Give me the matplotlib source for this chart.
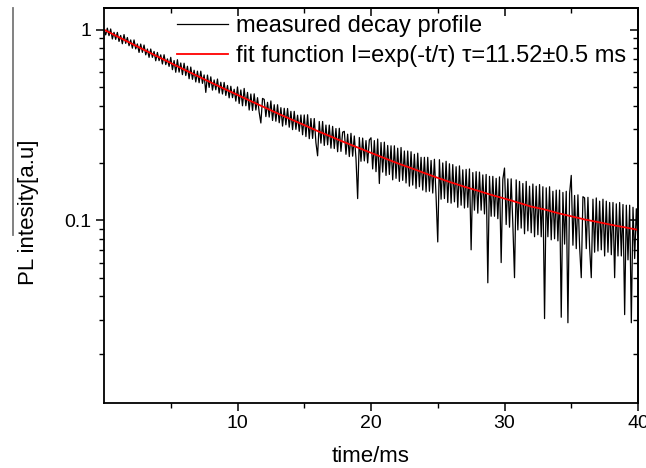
import numpy as np
import matplotlib
matplotlib.use('Agg')
import matplotlib.pyplot as plt
from matplotlib.lines import Line2D
from matplotlib.ticker import LogLocator, NullFormatter

############################# DATA ##########################
# measured trace, one sample every 0.125 ms from 0 to 40 ms (8 per row = 1 ms)
t_step = 0.125
measured = [
    1.000, 0.940, 1.019, 0.931, 1.009, 0.894, 0.969, 0.890,
    0.968, 0.868, 0.933, 0.844, 0.943, 0.848, 0.910, 0.824,
    0.884, 0.800, 0.884, 0.793, 0.842, 0.760, 0.841, 0.761,
    0.831, 0.738, 0.792, 0.716, 0.792, 0.716, 0.769, 0.687,
    0.760, 0.688, 0.738, 0.661, 0.739, 0.656, 0.703, 0.642,
    0.716, 0.617, 0.689, 0.598, 0.696, 0.599, 0.669, 0.581,
    0.667, 0.575, 0.643, 0.553, 0.637, 0.549, 0.613, 0.532,
    0.606, 0.527, 0.606, 0.523, 0.579, 0.469, 0.578, 0.498,
    0.566, 0.482, 0.545, 0.484, 0.551, 0.465, 0.530, 0.460,
    0.529, 0.452, 0.510, 0.439, 0.505, 0.440, 0.487, 0.422,
    0.501, 0.410, 0.483, 0.399, 0.492, 0.399, 0.469, 0.379,
    0.460, 0.377, 0.461, 0.379, 0.440, 0.368, 0.324, 0.436,
    0.431, 0.350, 0.416, 0.348, 0.423, 0.334, 0.404, 0.331,
    0.404, 0.325, 0.390, 0.312, 0.387, 0.317, 0.386, 0.308,
    0.373, 0.299, 0.373, 0.300, 0.356, 0.293, 0.357, 0.281,
    0.357, 0.275, 0.358, 0.268, 0.342, 0.269, 0.342, 0.255,
    0.218, 0.330, 0.254, 0.330, 0.247, 0.316, 0.249, 0.316,
    0.239, 0.311, 0.238, 0.303, 0.229, 0.304, 0.230, 0.290,
    0.293, 0.222, 0.283, 0.216, 0.286, 0.217, 0.277, 0.211,
    0.130, 0.272, 0.204, 0.270, 0.205, 0.262, 0.200, 0.264,
    0.271, 0.186, 0.262, 0.180, 0.267, 0.156, 0.256, 0.179,
    0.257, 0.172, 0.247, 0.174, 0.246, 0.163, 0.246, 0.166,
    0.239, 0.160, 0.241, 0.162, 0.231, 0.157, 0.231, 0.151,
    0.229, 0.153, 0.222, 0.147, 0.225, 0.150, 0.214, 0.144,
    0.214, 0.141, 0.214, 0.142, 0.206, 0.139, 0.209, 0.133,
    0.077, 0.208, 0.129, 0.200, 0.130, 0.204, 0.124, 0.198,
    0.123, 0.196, 0.125, 0.191, 0.117, 0.193, 0.120, 0.184,
    0.116, 0.185, 0.117, 0.186, 0.070, 0.178, 0.113, 0.180,
    0.109, 0.179, 0.113, 0.173, 0.108, 0.174, 0.047, 0.170,
    0.105, 0.170, 0.105, 0.166, 0.102, 0.169, 0.060, 0.164,
    0.188, 0.095, 0.165, 0.092, 0.165, 0.095, 0.050, 0.163,
    0.089, 0.160, 0.091, 0.156, 0.085, 0.160, 0.088, 0.151,
    0.086, 0.155, 0.082, 0.151, 0.084, 0.154, 0.082, 0.150,
    0.0305, 0.148, 0.082, 0.150, 0.079, 0.142, 0.080, 0.144,
    0.078, 0.144, 0.031, 0.140, 0.075, 0.142, 0.029, 0.138,
    0.172, 0.074, 0.135, 0.071, 0.136, 0.073, 0.050, 0.133,
    0.131, 0.071, 0.132, 0.072, 0.050, 0.129, 0.068, 0.131,
    0.069, 0.126, 0.070, 0.129, 0.065, 0.126, 0.068, 0.124,
    0.066, 0.124, 0.050, 0.122, 0.065, 0.124, 0.065, 0.121,
    0.032, 0.120, 0.062, 0.120, 0.029, 0.117, 0.063, 0.115,
    0.075,
]

# fitted curve, one value per ms from 0 to 40 ms
fit_t = list(range(0, 41))
fit_values = [
    1.000, 0.922, 0.850, 0.784, 0.724, 0.669, 0.618, 0.572, 0.529, 0.490,
    0.455, 0.422, 0.392, 0.364, 0.339, 0.316, 0.294, 0.275, 0.257, 0.241,
    0.226, 0.212, 0.199, 0.188, 0.177, 0.167, 0.158, 0.150, 0.143, 0.136,
    0.130, 0.124, 0.118, 0.114, 0.109, 0.105, 0.101, 0.0979, 0.0947, 0.0919,
    0.0891,
]

x_major = [10, 20, 30, 40]
x_minor = [5, 15, 25, 35]
y_major = [0.1, 1]
y_major_labels = ['0.1', '1']

label_measured = 'measured decay profile'
label_fit = 'fit function I=exp(-t/\u03c4) \u03c4=11.52\u00b10.5 ms'

################################## PLOT ###########################################
plt.rcParams['font.family'] = ['Liberation Sans', 'DejaVu Sans']

W, H = 646, 468
fig = plt.figure(figsize=(W/100, H/100), dpi=100)
ax = fig.add_axes([104/W, 1-403/H, (638-104)/W, (403-8)/H])

t_measured = np.arange(len(measured))*t_step
ax.plot(t_measured, measured, color='black', lw=0.9, label=label_measured)
ax.plot(fit_t, fit_values, color='red', lw=1.3, label=label_fit)

ax.set_yscale('log')
ax.set_xlim(0, 40)
ax.set_ylim(0.011, 1.3)

ax.set_xticks(x_major)
ax.set_xticks(x_minor, minor=True)
ax.set_yticks(y_major, labels=y_major_labels)
ax.yaxis.set_minor_locator(LogLocator(base=10, subs=np.arange(2, 10)))
ax.yaxis.set_minor_formatter(NullFormatter())

for s in ax.spines.values():
    s.set_linewidth(1.3)
ax.tick_params(which='major', direction='out', length=5.5, width=1.1, labelsize=14)
ax.tick_params(which='minor', direction='out', length=3.5, width=1.0)

# mirrored ticks on the top and right, pointing inward
top = ax.secondary_xaxis('top')
top.set_xticks(x_major, labels=[])
top.set_xticks(x_minor, minor=True)
top.tick_params(which='major', direction='in', length=5.5, width=1.1)
top.tick_params(which='minor', direction='in', length=3.5, width=1.0)
right = ax.secondary_yaxis('right')
right.set_yticks(y_major, labels=[])
right.yaxis.set_minor_locator(LogLocator(base=10, subs=np.arange(2, 10)))
right.yaxis.set_minor_formatter(NullFormatter())
right.tick_params(which='major', direction='in', length=5.5, width=1.1)
right.tick_params(which='minor', direction='in', length=3.5, width=1.0)
for sec in (top, right):
    for s in sec.spines.values():
        s.set_linewidth(1.3)

ax.set_xlabel('time/ms', fontsize=16, labelpad=10)
ax.set_ylabel('PL intesity[a.u]', fontsize=16)
ax.yaxis.set_label_coords(-0.121, 0.483)

ax.legend(loc='upper left', bbox_to_anchor=(177/W, 1-15/H),
          bbox_transform=fig.transFigure, frameon=False, fontsize=17,
          handlelength=2.15, handletextpad=0.35, labelspacing=0.35,
          borderpad=0, borderaxespad=0)

# stray grey stroke over the y label in the original
fig.add_artist(Line2D([12.5/W, 12.5/W], [1-8/H, 1-235/H], color='#777777', lw=1.3))

fig.savefig('out.png', dpi=100)
